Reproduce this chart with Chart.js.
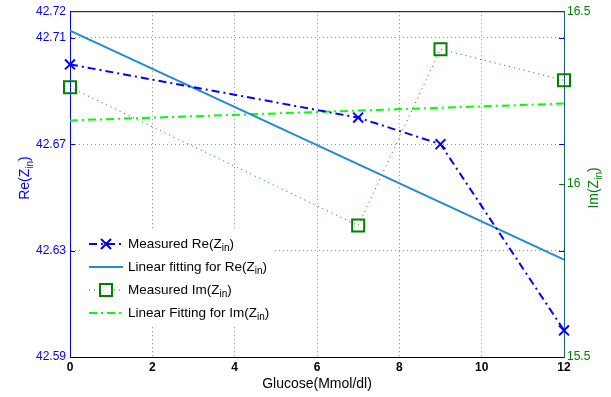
<!DOCTYPE html>
<html>
<head>
<meta charset="utf-8">
<script src="https://cdn.jsdelivr.net/npm/chart.js@4"></script>
<style>
  html, body { margin: 0; padding: 0; background: #fff; }
  canvas { display: block; }
</style>
</head>
<body>
<canvas id="chart" width="611" height="397"></canvas>
<script>
// values
const glucose = [0, 7, 9, 12]
const reMeasured = [42.700, 42.680, 42.670, 42.600]
const imMeasured = [16.28, 15.88, 16.39, 16.30]
const fitX = [0, 12]
const reFit = [42.7127, 42.6266]
const imFit = [16.184, 16.233]
const reTicks = [42.59, 42.63, 42.67, 42.71, 42.72]
const imTicks = [15.5, 16, 16.5]

const FONT = "'Liberation Sans', Arial, Helvetica, sans-serif"
const BLUE = "#0000ff"
const FIT_BLUE = "#1f8bd0"
const DARK_GREEN = "#008000"
const LIME = "#00ff00"
const RIGHT_AXIS = "#1d5d7a"

const toPoints = (xs, ys) => xs.map((x, i) => ({ x, y: ys[i] }))

// text with a subscript part, optionally rotated; align "center" or "left"
function drawRich(ctx, parts, x, y, size, color, rotate, align) {
  ctx.save()
  ctx.translate(x, y)
  if (rotate) ctx.rotate(-Math.PI / 2)
  ctx.fillStyle = color
  ctx.textBaseline = "middle"
  ctx.textAlign = "left"
  const subSize = Math.round(size * 0.72)
  let total = 0
  parts.forEach(([t, sub]) => {
    ctx.font = `${sub ? subSize : size}px ${FONT}`
    total += ctx.measureText(t).width
  })
  let cx = align === "left" ? 0 : -total / 2
  parts.forEach(([t, sub]) => {
    ctx.font = `${sub ? subSize : size}px ${FONT}`
    ctx.fillText(t, cx, sub ? size * 0.35 : 0)
    cx += ctx.measureText(t).width
  })
  ctx.restore()
}

const legendItems = [
  { parts: [["Measured Re(Z", false], ["in", true], [")", false]], color: BLUE, dash: [8, 4, 2, 4], width: 2, marker: "x" },
  { parts: [["Linear fitting for Re(Z", false], ["in", true], [")", false]], color: FIT_BLUE, dash: [], width: 2, marker: null },
  { parts: [["Measured Im(Z", false], ["in", true], [")", false]], color: DARK_GREEN, dash: [1, 4], width: 1, marker: "square" },
  { parts: [["Linear Fitting for Im(Z", false], ["in", true], [")", false]], color: LIME, dash: [8, 4, 2, 4], width: 2, marker: null },
]

const decorations = {
  id: "decorations",
  afterDraw(chart) {
    const ctx = chart.ctx
    const ca = chart.chartArea
    const y = chart.scales.y
    const y2 = chart.scales.y2

    ctx.save()
    // top border
    ctx.strokeStyle = "#000"
    ctx.lineWidth = 1
    ctx.beginPath()
    ctx.moveTo(ca.left, ca.top + 0.5)
    ctx.lineTo(ca.right, ca.top + 0.5)
    ctx.stroke()

    // inward tick marks
    ctx.strokeStyle = BLUE
    reTicks.slice(1, -1).forEach((v) => {
      const py = Math.round(y.getPixelForValue(v)) + 0.5
      ctx.beginPath()
      ctx.moveTo(ca.left, py)
      ctx.lineTo(ca.left + 5, py)
      ctx.moveTo(ca.right, py)
      ctx.lineTo(ca.right - 5, py)
      ctx.stroke()
    })
    ctx.strokeStyle = DARK_GREEN
    const p16 = Math.round(y2.getPixelForValue(16)) + 0.5
    ctx.beginPath()
    ctx.moveTo(ca.right, p16)
    ctx.lineTo(ca.right - 5, p16)
    ctx.stroke()

    // legend
    ctx.fillStyle = "#fff"
    ctx.fillRect(80, 231, 194, 95)
    legendItems.forEach((item, i) => {
      const ry = 244 + i * 23
      ctx.strokeStyle = item.color
      ctx.lineWidth = item.width
      ctx.setLineDash(item.dash)
      ctx.beginPath()
      ctx.moveTo(89, ry)
      ctx.lineTo(123, ry)
      ctx.stroke()
      ctx.setLineDash([])
      ctx.lineWidth = 2
      if (item.marker === "x") {
        ctx.beginPath()
        ctx.moveTo(101, ry - 5)
        ctx.lineTo(111, ry + 5)
        ctx.moveTo(111, ry - 5)
        ctx.lineTo(101, ry + 5)
        ctx.stroke()
      } else if (item.marker === "square") {
        ctx.fillStyle = "#fff"
        ctx.fillRect(100, ry - 6, 12, 12)
        ctx.strokeRect(100, ry - 6, 12, 12)
      }
      drawRich(ctx, item.parts, 128, ry, 13.5, "#000", false, "left")
    })

    // axis titles
    drawRich(ctx, [["Re(Z", false], ["in", true], [")", false]], 25, 178, 14, BLUE, true, "center")
    drawRich(ctx, [["Im(Z", false], ["in", true], [")", false]], 594, 188, 14, DARK_GREEN, true, "center")
    ctx.font = `14px ${FONT}`
    ctx.fillStyle = "#000"
    ctx.textAlign = "center"
    ctx.textBaseline = "middle"
    ctx.fillText("Glucose(Mmol/dl)", 317, 384)
    ctx.restore()
  },
}

new Chart(document.getElementById("chart"), {
  type: "scatter",
  data: {
    datasets: [
      {
        label: "Measured Re(Zin)",
        data: toPoints(glucose, reMeasured),
        yAxisID: "y",
        showLine: true,
        borderColor: BLUE,
        borderWidth: 2,
        borderDash: [8, 4, 2, 4],
        pointStyle: "crossRot",
        pointRadius: 7,
        pointBorderWidth: 2,
        pointBorderColor: BLUE,
        clip: false,
      },
      {
        label: "Linear fitting for Re(Zin)",
        data: toPoints(fitX, reFit),
        yAxisID: "y",
        showLine: true,
        borderColor: FIT_BLUE,
        borderWidth: 2,
        pointRadius: 0,
        clip: false,
      },
      {
        label: "Measured Im(Zin)",
        data: toPoints(glucose, imMeasured),
        yAxisID: "y2",
        showLine: true,
        borderColor: DARK_GREEN,
        borderWidth: 1,
        borderDash: [1, 4],
        pointStyle: "rect",
        pointRadius: 8.5,
        pointBorderWidth: 2,
        pointBorderColor: DARK_GREEN,
        pointBackgroundColor: "rgba(0,0,0,0)",
        clip: false,
      },
      {
        label: "Linear Fitting for Im(Zin)",
        data: toPoints(fitX, imFit),
        yAxisID: "y2",
        showLine: true,
        borderColor: LIME,
        borderWidth: 2,
        borderDash: [8, 4, 2, 4],
        pointRadius: 0,
        clip: false,
      },
    ],
  },
  options: {
    responsive: false,
    animation: false,
    layout: { padding: { top: 9, left: 0, right: 0, bottom: 0 } },
    plugins: {
      legend: { display: false },
      tooltip: { enabled: false },
    },
    scales: {
      x: {
        type: "linear",
        min: 0,
        max: 12,
        afterFit: (s) => { s.height = 40 },
        ticks: {
          stepSize: 2,
          color: "#000",
          padding: 3,
          font: { family: FONT, size: 12, weight: "bold" },
        },
        grid: {
          drawTicks: false,
          color: (c) => (c.tick.value === 0 || c.tick.value === 12 ? "rgba(0,0,0,0)" : "#888"),
        },
        border: { color: "#000", dash: [1, 3] },
      },
      y: {
        position: "left",
        min: 42.59,
        max: 42.72,
        afterFit: (s) => { s.width = 70 },
        afterBuildTicks: (s) => { s.ticks = reTicks.map((v) => ({ value: v })) },
        ticks: {
          autoSkip: false,
          color: BLUE,
          padding: 4,
          font: { family: FONT, size: 12 },
          callback: (v) => v.toFixed(2),
        },
        grid: {
          drawTicks: false,
          color: (c) => (c.tick.value === 42.59 || c.tick.value === 42.72 ? "rgba(0,0,0,0)" : "rgba(90,90,255,0.75)"),
        },
        border: { color: BLUE, dash: [1, 3] },
      },
      y2: {
        position: "right",
        min: 15.5,
        max: 16.5,
        afterFit: (s) => { s.width = 47 },
        afterBuildTicks: (s) => { s.ticks = imTicks.map((v) => ({ value: v })) },
        ticks: {
          autoSkip: false,
          color: DARK_GREEN,
          padding: 3,
          font: { family: FONT, size: 12 },
          callback: (v) => String(v),
        },
        grid: { display: false, drawTicks: false },
        border: { color: RIGHT_AXIS },
      },
    },
  },
  plugins: [decorations],
})
</script>
</body>
</html>
